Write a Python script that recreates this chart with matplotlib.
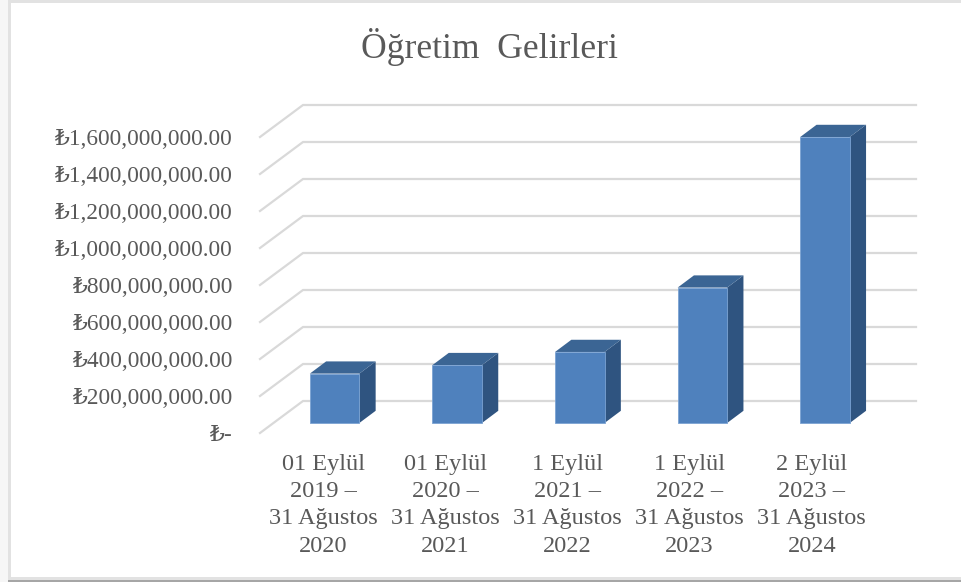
import numpy as np
import matplotlib
matplotlib.use('Agg')
import matplotlib.pyplot as plt
from matplotlib.patches import Polygon, Rectangle

plt.rcParams['font.family'] = ['Liberation Serif', 'DejaVu Serif', 'DejaVu Sans']

title = 'Öğretim  Gelirleri'
periods = ['01 Eylül\n2019 –\n31 Ağustos\n2020',
           '01 Eylül\n2020 –\n31 Ağustos\n2021',
           '1 Eylül\n2021 –\n31 Ağustos\n2022',
           '1 Eylül\n2022 –\n31 Ağustos\n2023',
           '2 Eylül\n2023 –\n31 Ağustos\n2024']
gelir = [267e6, 313e6, 384e6, 732e6, 1546e6]
ticks = [0, 200e6, 400e6, 600e6, 800e6, 1000e6, 1200e6, 1400e6, 1600e6]
tick_labels = ['₺-', '₺200,000,000.00', '₺400,000,000.00', '₺600,000,000.00',
               '₺800,000,000.00', '₺1,000,000,000.00', '₺1,200,000,000.00',
               '₺1,400,000,000.00', '₺1,600,000,000.00']

W, H = 961, 582
fig = plt.figure(figsize=(W / 100, H / 100), dpi=100, facecolor='white')

# ось на всю картинку: пересчёт пикселей в категории и значения
px_x = 122.6
px_y = 37 / 200e6
x0_px, y0_px = 335, 423
ax = fig.add_axes([0, 0, 1, 1])
ax.set_xlim((0 - x0_px) / px_x, (W - x0_px) / px_x)
ax.set_ylim((y0_px - H) / px_y, y0_px / px_y)
ax.axis('off')

dx = lambda p: p / px_x
dy = lambda p: p / px_y

# рамка: серая полоса слева, линия сверху, тёмная полоса снизу
ax.add_patch(Rectangle((0, 0), 1, 1, transform=ax.transAxes, fc='#f6f6f6', ec='none', zorder=0))
ax.add_patch(Rectangle((8 / W, 0), 1, 5 / H, transform=ax.transAxes, fc='#a6a6a6', ec='none', zorder=0.2))
ax.add_patch(Rectangle((8 / W, 2.5 / H), 1, 1 - 2.5 / H, transform=ax.transAxes, fc='#e2e2e2', ec='none', zorder=0.3))
ax.add_patch(Rectangle((11 / W, 5 / H), 1, 1 - 8 / H, transform=ax.transAxes, fc='white', ec='none', zorder=0.5))

# сетка
left_x = dx(260 - x0_px)
back_x = dx(303 - x0_px)
right_x = dx(916 - x0_px)
front_off = dy(-10)
back_off = dy(22)
for t, lab in zip(ticks, tick_labels):
    ax.plot([left_x, back_x, right_x], [t + front_off, t + back_off, t + back_off],
            color='#d9d9d9', lw=1.6, zorder=1, solid_joinstyle='miter')
    ax.text(dx(232 - x0_px), t + front_off - dy(2.5), lab, ha='right', va='center',
            fontsize=16.8, color='#595959')

# столбики
w = dx(49.5)
sx, sy = dx(16.3), dy(12.2)
for i, v in enumerate(gelir):
    l, r = i - w / 2 - dx(0.4), i + w / 2 - dx(0.4)
    ax.add_patch(Polygon([(r, 0), (r + sx, sy), (r + sx, v + sy), (r, v)], fc='#2f5480', ec='none', zorder=2))
    ax.add_patch(Polygon([(l, v), (l + sx, v + sy), (r + sx, v + sy), (r, v)], fc='#3b6594', ec='none', zorder=2))
    ax.add_patch(Rectangle((l, 0), w, v, fc='#4f81bd', ec='#7ba3d3', lw=0.6, zorder=3))
    ax.text(i - dx(12) - i * dx(0.4), dy(-31), periods[i], ha='center', va='top', fontsize=17.5,
            color='#595959', linespacing=1.39)

ax.text(dx(489 - x0_px), dy(423 - 47), title, ha='center', va='center', fontsize=25.6, color='#595959')

fig.savefig('out.png', dpi=100)
